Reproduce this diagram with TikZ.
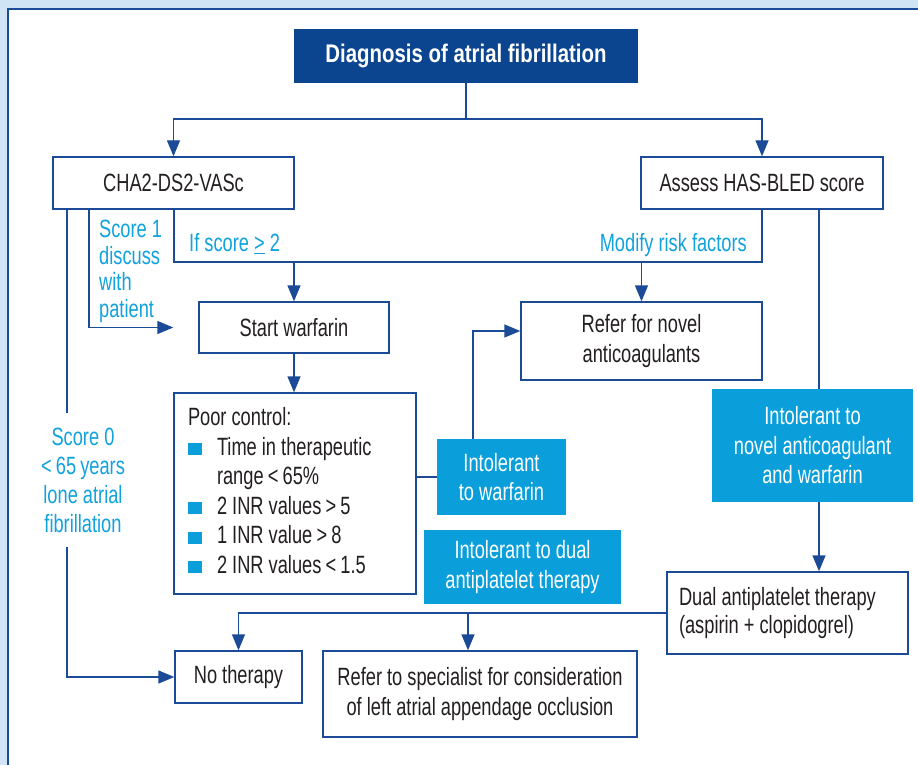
\documentclass[tikz,border=0pt]{standalone}
\usepackage{fontspec}
\setmainfont[FakeStretch=0.73]{Liberation Sans}
\newfontfamily\boldcond[FakeStretch=0.8]{Liberation Sans}
\usetikzlibrary{arrows.meta,calc}
\definecolor{bgblue}{HTML}{CFE4F4}
\definecolor{navy}{HTML}{0B4590}
\definecolor{lineblue}{HTML}{1B4A96}
\definecolor{cyanfill}{HTML}{0A9FDA}
\definecolor{cyantext}{HTML}{12A2DC}
\definecolor{txt}{HTML}{231F20}
\newcommand\sqb{\textcolor{cyanfill}{\rule{14pt}{12pt}}}
\begin{document}
\begin{tikzpicture}[x=1pt,y=-1pt,
  box/.style={draw=lineblue, line width=1.4pt, fill=white, text=txt, inner sep=0pt, align=center, font=\fontsize{25}{29.5}\selectfont},
  cbox/.style={fill=cyanfill, text=white, inner sep=0pt, align=center, font=\fontsize{25}{29.5}\selectfont},
  lbl/.style={text=cyantext, inner sep=0pt, font=\fontsize{25}{27}\selectfont},
  conn/.style={draw=lineblue, line width=1.4pt},
  arr/.style={conn, -{Triangle[width=13pt,length=16pt]}}
]
\useasboundingbox (0,0) rectangle (918,765);
\fill[bgblue] (0,0) rectangle (918,765);
\fill[white] (8,9) rectangle (918,765);
\draw[conn] (8,765) -- (8,9) -- (918,9);

% nodes
\node[box, fill=navy, draw=navy, text=white, font=\fontsize{25.5}{30}\selectfont\boldcond\bfseries, minimum width=342pt, minimum height=52pt] (diag) at (466,56) {Diagnosis of atrial fibrillation};
\node[box, minimum width=241pt, minimum height=52pt] (cha) at (173.5,183) {CHA2-DS2-VASc};
\node[box, minimum width=242pt, minimum height=52pt] (has) at (762,183) {Assess HAS-BLED score};
\node[box, minimum width=190pt, minimum height=51pt] (start) at (294,327.5) {Start warfarin};
\node[box, minimum width=241pt, minimum height=78pt] (refer) at (641.5,341) {Refer for novel\\anticoagulants};
\node[box, minimum width=242pt, minimum height=201pt, text width=214pt, inner xsep=14pt, align=flush left] (poor) at (295,493.5) {%
\begin{tabular}{@{}l@{\hspace{15pt}}l@{}}
\multicolumn{2}{@{}l@{}}{Poor control:}\\
\sqb & Time in therapeutic\\
 & range\,<\,65\%\\
\sqb & 2 INR values\,>\,5\\
\sqb & 1 INR value\,>\,8\\
\sqb & 2 INR values\,<\,1.5
\end{tabular}};
\node[cbox, minimum width=129pt, minimum height=76pt] (iw) at (501.5,477) {Intolerant\\to warfarin};
\node[cbox, minimum width=197pt, minimum height=74pt] (idual) at (522.5,567) {Intolerant to dual\\antiplatelet therapy};
\node[cbox, minimum width=201pt, minimum height=113pt] (inov) at (812.5,445.5) {Intolerant to\\novel anticoagulant\\and warfarin};
\node[box, minimum width=241pt, minimum height=82pt, text width=217pt, inner xsep=12pt, align=flush left, font=\fontsize{25}{28}\selectfont] (dual) at (787.5,613) {Dual antiplatelet therapy\\(aspirin + clopidogrel)};
\node[box, minimum width=127pt, minimum height=52pt] (none) at (238.5,677) {No therapy};
\node[box, minimum width=314pt, minimum height=86pt] (spec) at (480,694) {Refer to specialist for consideration\\of left atrial appendage occlusion};

% labels
\node[lbl, anchor=west, align=flush left, font=\fontsize{25}{26.7}\selectfont] (s1) at (99,271.5) {Score 1\\discuss\\with\\patient};
\node[lbl, anchor=base west] (ifs) at (189,251.5) {If score \underline{>} 2};
\node[lbl, anchor=base east] (mod) at (747,251.5) {Modify risk factors};
\node[lbl, align=center, font=\fontsize{25}{29}\selectfont] (s0) at (83,480) {Score 0\\<\,65\,years\\lone atrial\\fibrillation};

% connectors
\coordinate (split) at (466,119);
\draw[conn] (diag.south) -- (split);
\draw[arr] (split) -| (cha.north);
\draw[arr] (split) -| (has.north);

\coordinate (g1) at (67,413);
\coordinate (g2) at (67,547);
\draw[conn] (cha.south west -| g1) -- (g1);
\draw[arr] (g2) |- (none.west);

\coordinate (c1) at (89,209);
\draw[arr, shorten >=25pt] (c1) |- (start.west);

\coordinate (jl) at (174,262);
\coordinate (jr) at (762,262);
\draw[conn] (cha.south -| jl) -- (jl) -- (jr) -- (has.south -| jr);
\draw[arr] (start.north |- jl) -- (start.north);
\draw[arr] (refer.north |- jl) -- (refer.north);

\draw[arr] (start.south) -- (start.south |- poor.north);
\draw[conn] (iw.west) -- (iw.west -| poor.east);
\coordinate (xw) at (473,0);
\draw[arr] (iw.north -| xw) |- ($(refer.west)+(0,-10)$);

\coordinate (xr) at (819,0);
\draw[conn] (has.south -| xr) -- (inov.north -| xr);
\draw[arr] (inov.south -| xr) -- (dual.north -| xr);

\draw[arr] (dual.west) -| (none.north);
\coordinate (xs) at (468,0);
\draw[arr] (dual.west -| xs) -- (spec.north -| xs);
\end{tikzpicture}
\end{document}
